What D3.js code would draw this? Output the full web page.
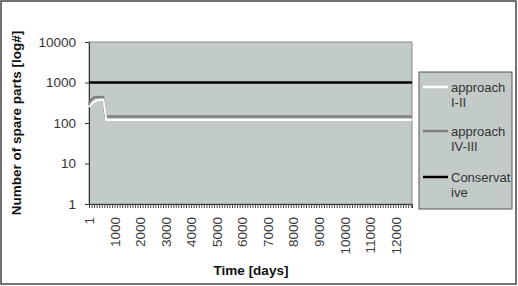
<!DOCTYPE html>
<html lang="en">
<head>
<meta charset="utf-8">
<title>spare parts</title>
<script src="https://d3js.org/d3.v7.min.js"></script>
<style>
  body{margin:0;background:#fff;font-family:"Liberation Sans",Arial,sans-serif;}
</style>
</head>
<body>
<div id="chart"></div>
<script>
// values (time in days, count of spare parts)
var seriesNames = ["approach I-II", "approach IV-III", "Conservative"]
var legendLines = [["approach", "I-II"], ["approach", "IV-III"], ["Conservat", "ive"]]
var seriesColors = ["#ffffff", "#808080", "#000000"]
var timeI = [1, 150, 350, 560, 680, 12650]
var valI = [250, 320, 370, 380, 118, 118]
var timeIV = [1, 100, 200, 550, 650, 12650]
var valIV = [300, 380, 430, 440, 145, 145]
var timeCons = [1, 12650]
var valCons = [1000, 1000]
var yTicks = [1, 10, 100, 1000, 10000]
var xTicks = [1, 1000, 2000, 3000, 4000, 5000, 6000, 7000, 8000, 9000, 10000, 11000, 12000]

var w = 518, h = 286
// plot box (note: "top" is reserved on window, so use pTop)
var pLeft = 89, pRight = 412, pTop = 42, pBottom = 204

var svg = d3.select("#chart").append("svg").attr("width", w).attr("height", h)

// outer frame
svg.append("rect").attr("x", 1).attr("y", 1).attr("width", w - 3).attr("height", h - 3)
  .attr("fill", "#fff").attr("stroke", "#444").attr("stroke-width", 1.5)

var x = d3.scaleLinear().domain([1, 12650]).range([pLeft, pRight])
var y = d3.scaleLog().domain([1, 10000]).range([pBottom, pTop])

// plot area
svg.append("rect").attr("x", pLeft).attr("y", pTop).attr("width", pRight - pLeft).attr("height", pBottom - pTop)
  .attr("fill", "#c3cbc9").attr("stroke", "#8a8a8a").attr("stroke-width", 1)

// y axis
var yAxis = svg.append("g").attr("transform", "translate(" + pLeft + ",0)")
  .call(d3.axisLeft(y).tickValues(yTicks).tickFormat(d3.format("d")).tickSize(4).tickPadding(9))
yAxis.select(".domain").attr("stroke", "#333")
yAxis.selectAll(".tick line").attr("stroke", "#333")
yAxis.selectAll("text").attr("font-size", 13.5).attr("font-family", "Liberation Sans, Arial").attr("fill", "#333")

// x axis: dense minor ticks + labelled ticks
var minor = d3.range(0, 12700, 100)
var xMinor = svg.append("g").attr("transform", "translate(0," + pBottom + ")")
  .call(d3.axisBottom(x).tickValues(minor).tickFormat("").tickSize(4))
xMinor.select(".domain").attr("stroke", "#333")
xMinor.selectAll(".tick line").attr("stroke", "#444")

var xAxis = svg.append("g").attr("transform", "translate(0," + pBottom + ")")
  .call(d3.axisBottom(x).tickValues(xTicks).tickFormat(d3.format("d")).tickSize(0))
xAxis.select(".domain").remove()
xAxis.selectAll("text")
  .attr("font-size", 13.5).attr("font-family", "Liberation Sans, Arial").attr("fill", "#3a3a3a")
  .attr("transform", "rotate(-90)")
  .attr("text-anchor", "end")
  .attr("x", -13).attr("y", 0).attr("dy", "0.35em")

// lines
var line = d3.line().x(function(d){ return x(d[0]) }).y(function(d){ return y(d[1]) })
var data = [
  d3.zip(timeI, valI),
  d3.zip(timeIV, valIV),
  d3.zip(timeCons, valCons)
]
var widths = [2, 2.5, 2.5]
// gray first, then white, then black so white stays visible
;[1, 0, 2].forEach(function(i){
  svg.append("path").datum(data[i])
    .attr("d", line)
    .attr("fill", "none")
    .attr("stroke", seriesColors[i])
    .attr("stroke-width", widths[i])
    .attr("stroke-linejoin", "round")
})

// axis titles
svg.append("text")
  .attr("transform", "translate(21," + ((pTop + pBottom) / 2) + ") rotate(-90)")
  .attr("text-anchor", "middle")
  .attr("font-size", 13.5).attr("font-weight", "bold")
  .attr("font-family", "Liberation Sans, Arial").attr("fill", "#111")
  .text("Number of spare parts [log#]")

svg.append("text")
  .attr("x", 251).attr("y", 275)
  .attr("text-anchor", "middle")
  .attr("font-size", 13.5).attr("font-weight", "bold")
  .attr("font-family", "Liberation Sans, Arial").attr("fill", "#111")
  .text("Time [days]")

// legend
var lg = svg.append("g")
lg.append("rect").attr("x", 419).attr("y", 72).attr("width", 93).attr("height", 137)
  .attr("fill", "#c3cbc9").attr("stroke", "#555").attr("stroke-width", 1)
var legendY = [87, 131, 177]
seriesNames.forEach(function(name, i){
  lg.append("line").attr("x1", 423).attr("x2", 448)
    .attr("y1", legendY[i]).attr("y2", legendY[i])
    .attr("stroke", seriesColors[i]).attr("stroke-width", 2.5)
  var t = lg.append("text").attr("x", 451).attr("y", legendY[i] + 5)
    .attr("font-size", 13).attr("font-family", "Liberation Sans, Arial").attr("fill", "#333")
  legendLines[i].forEach(function(part, j){
    t.append("tspan").attr("x", 451).attr("dy", j == 0 ? 0 : 15).text(part)
  })
})
</script>
</body>
</html>
